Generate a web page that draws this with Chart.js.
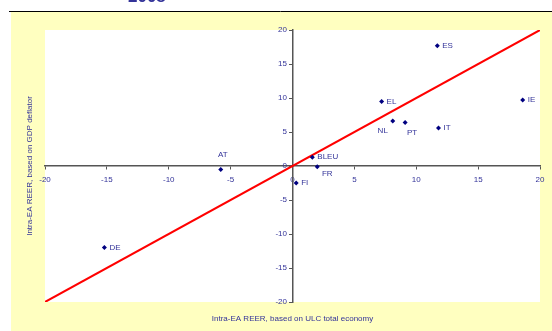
<!DOCTYPE html>
<html>
<head>
<meta charset="utf-8">
<style>
  html, body { margin: 0; padding: 0; background: #ffffff; }
  #wrap { position: relative; width: 552px; height: 331px; }
  canvas { display: block; }
</style>
<script src="https://cdn.jsdelivr.net/npm/chart.js@4/dist/chart.umd.min.js"></script>
</head>
<body>
<div id="wrap"><canvas id="c" width="552" height="331"></canvas></div>
<script>
// Countries and their intra-euro-area REER changes
const countries = ['ES', 'EL', 'IE', 'NL', 'PT', 'IT', 'BLEU', 'FR', 'FI', 'AT', 'DE'];
const ulcReer   = [11.7, 7.2, 18.6, 8.1, 9.1, 11.8, 1.6, 2.0, 0.3, -5.8, -15.2];
const gdpReer   = [17.7, 9.5, 9.7, 6.6, 6.4, 5.6, 1.3, -0.1, -2.5, -0.5, -12.0];
// 45-degree reference line end points
const diagonal  = [-20, 20];
const tickValues = [-20, -15, -10, -5, 0, 5, 10, 15, 20];

const titleText = '2008';
const xTitle = 'Intra-EA REER, based on ULC total economy';
const yTitle = 'Intra-EA REER, based on GDP deflator';

const textBlue = '#333399';
const markBlue = '#000080';
const fontFamily = '"Liberation Sans", Arial, sans-serif';

// where each country label sits relative to its marker
const labelAnchor = {
  NL: { dx: -10, dy: 10, align: 'center' },
  PT: { dx: 7, dy: 10, align: 'center' },
  FR: { dx: 10, dy: 7, align: 'center' },
  AT: { dx: 2, dy: -15, align: 'center' }
};

const framePlugin = {
  id: 'frame',
  beforeDraw(chart) {
    const ctx = chart.ctx;
    const a = chart.chartArea;
    ctx.save();
    ctx.fillStyle = '#ffffff';
    ctx.fillRect(0, 0, chart.width, chart.height);
    ctx.fillStyle = '#FFFFC0';
    ctx.fillRect(11, 12, chart.width - 11, chart.height - 12);
    ctx.fillStyle = '#ffffff';
    ctx.fillRect(a.left, a.top, a.right - a.left, a.bottom - a.top);
    ctx.strokeStyle = '#000000';
    ctx.lineWidth = 1;
    ctx.beginPath();
    ctx.moveTo(9, 11.5);
    ctx.lineTo(chart.width, 11.5);
    ctx.stroke();
    // heading, mostly above the page edge
    ctx.fillStyle = '#333399';
    ctx.font = 'bold 17px ' + fontFamily;
    ctx.textBaseline = 'alphabetic';
    ctx.textAlign = 'left';
    ctx.fillText(titleText, 128, 2);
    // axis titles
    ctx.fillStyle = textBlue;
    ctx.font = '8px ' + fontFamily;
    ctx.textAlign = 'center';
    ctx.textBaseline = 'middle';
    ctx.fillText(xTitle, (a.left + a.right) / 2, 319);
    ctx.translate(30, (a.top + a.bottom) / 2);
    ctx.rotate(-Math.PI / 2);
    ctx.fillText(yTitle, 0, 0);
    ctx.restore();
  },
  afterDraw(chart) {
    // y tick labels, placed just left of the central vertical axis
    const ctx = chart.ctx;
    const xs = chart.scales.x, ys = chart.scales.y;
    const axisX = xs.getPixelForValue(0);
    ctx.save();
    ctx.fillStyle = textBlue;
    ctx.font = '8px ' + fontFamily;
    ctx.textAlign = 'right';
    ctx.textBaseline = 'middle';
    ys.ticks.forEach(t => {
      ctx.fillText(String(t.value), axisX - 5.5, ys.getPixelForValue(t.value));
    });
    ctx.restore();
  },
  afterDatasetsDraw(chart) {
    const ctx = chart.ctx;
    const meta = chart.getDatasetMeta(1);
    ctx.save();
    ctx.fillStyle = textBlue;
    ctx.font = '8px ' + fontFamily;
    ctx.textBaseline = 'middle';
    meta.data.forEach((pt, i) => {
      const name = countries[i];
      const anc = labelAnchor[name] || { dx: 5, dy: 0, align: 'left' };
      ctx.textAlign = anc.align;
      ctx.fillText(name, pt.x + anc.dx, pt.y + anc.dy);
    });
    ctx.restore();
  }
};

new Chart(document.getElementById('c'), {
  type: 'scatter',
  data: {
    datasets: [
      {
        type: 'line',
        data: diagonal.map(v => ({ x: v, y: v })),
        borderColor: '#FF0000',
        borderWidth: 2,
        pointRadius: 0,
        fill: false,
        order: 2
      },
      {
        data: countries.map((c, i) => ({ x: ulcReer[i], y: gdpReer[i] })),
        backgroundColor: markBlue,
        borderColor: markBlue,
        pointStyle: 'rectRot',
        pointRadius: 2.5,
        borderWidth: 0,
        order: 1
      }
    ]
  },
  options: {
    responsive: false,
    animation: false,
    layout: { padding: { left: 45, top: 30, right: 12, bottom: 29 } },
    plugins: { legend: { display: false }, tooltip: { enabled: false } },
    scales: {
      x: {
        type: 'linear',
        position: { y: 0 },
        min: -20, max: 20,
        afterBuildTicks(s) { s.ticks = tickValues.map(v => ({ value: v })); },
        grid: { drawOnChartArea: false, drawTicks: true, tickLength: 3, color: '#555555' },
        border: { color: '#555555', width: 1.5 },
        ticks: { color: textBlue, font: { size: 8, family: fontFamily }, padding: 6, maxRotation: 0 }
      },
      y: {
        type: 'linear',
        position: { x: 0 },
        min: -20, max: 20,
        afterBuildTicks(s) { s.ticks = tickValues.map(v => ({ value: v })); },
        grid: { drawOnChartArea: false, drawTicks: true, tickLength: 3, color: '#555555' },
        border: { color: '#555555', width: 1.5 },
        ticks: { display: false }
      }
    }
  },
  plugins: [framePlugin]
});
</script>
</body>
</html>
